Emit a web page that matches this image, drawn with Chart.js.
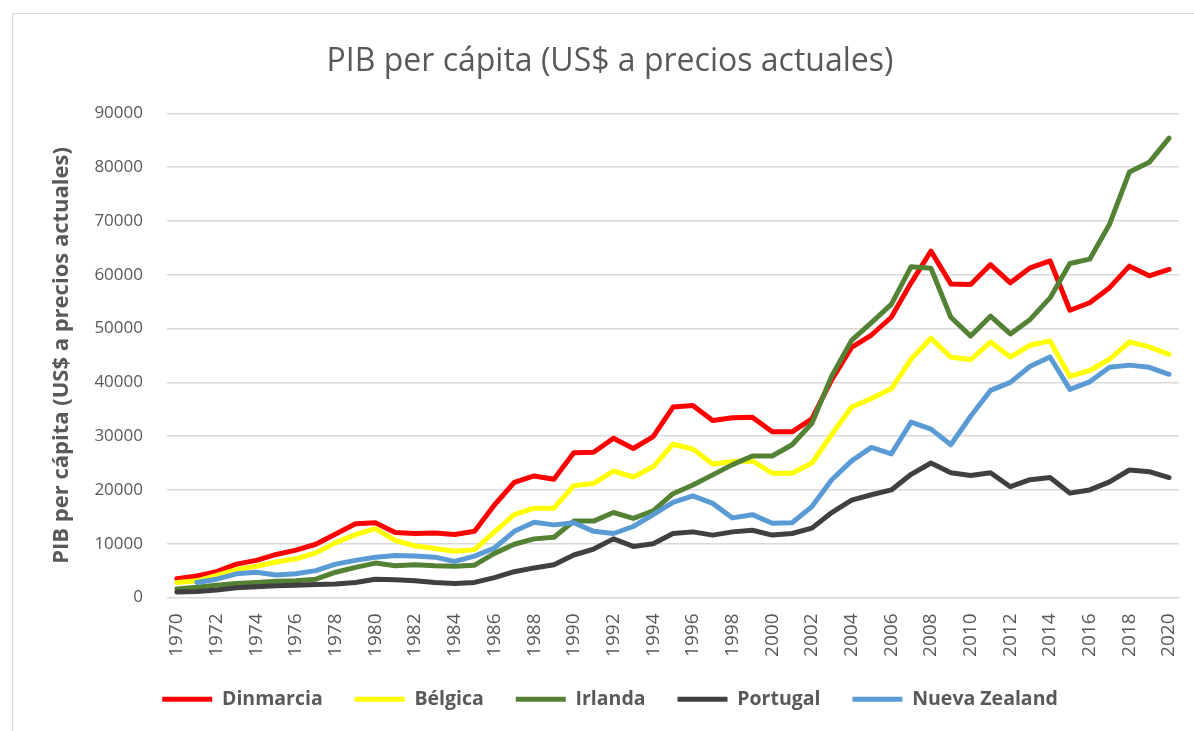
<!DOCTYPE html>
<html>
<head>
<meta charset="utf-8">
<script src="https://cdn.jsdelivr.net/npm/chart.js@4"></script>
<style>
  html, body { margin: 0; padding: 0; background: #fff; overflow: hidden; }
  #frame { position: absolute; left: 12px; top: 13px; width: 1194px; height: 740px; border-left: 1px solid #d9d9d9; border-top: 1px solid #d9d9d9; }
  #wrap { position: absolute; left: 0; top: 0; width: 1194px; height: 718px; }
</style>
</head>
<body>
<div id="frame"><div id="wrap"><canvas id="chart"></canvas></div></div>
<script>
const years = [];
for (let y = 1970; y <= 2020; y++) years.push(String(y));

const dinmarcia = [3500, 4000, 4800, 6200, 6900, 8000, 8800, 9900, 11800, 13700, 13900, 12100, 11900, 12000, 11700, 12300,
  17200, 21400, 22600, 22000, 26900, 27000, 29600, 27700, 29900, 35400, 35700, 32900, 33400, 33500, 30800, 30800, 33200,
  40500, 46500, 48800, 52100, 58500, 64400, 58300, 58200, 61900, 58500, 61300, 62600, 53400, 54800, 57600, 61600, 59800, 61000];
const belgica = [2800, 3100, 4100, 5200, 5800, 6600, 7200, 8300, 10200, 11700, 12800, 10600, 9600, 9100, 8600, 8900,
  12200, 15400, 16600, 16600, 20800, 21200, 23500, 22400, 24300, 28500, 27600, 24800, 25300, 25400, 23100, 23100, 25000,
  30300, 35400, 37000, 38800, 44300, 48200, 44700, 44200, 47500, 44700, 46900, 47700, 41100, 42200, 44300, 47500, 46600, 45200];
const irlanda = [1600, 1900, 2300, 2600, 2800, 3000, 3100, 3400, 4700, 5600, 6400, 5900, 6100, 5900, 5800, 6000,
  8200, 9900, 10900, 11200, 14200, 14200, 15800, 14700, 16100, 19300, 20900, 22800, 24700, 26300, 26300, 28400, 32400,
  41200, 47800, 51100, 54500, 61500, 61200, 52100, 48600, 52300, 49000, 51700, 55700, 62100, 62900, 69400, 79100, 80900, 85400];
const portugal = [1000, 1100, 1400, 1800, 2000, 2200, 2300, 2400, 2500, 2800, 3400, 3300, 3100, 2800, 2600, 2800,
  3700, 4800, 5500, 6100, 7900, 9000, 10900, 9500, 10000, 11900, 12200, 11600, 12200, 12500, 11600, 11900, 12900,
  15800, 18100, 19100, 20000, 22900, 25000, 23200, 22700, 23200, 20600, 21900, 22300, 19400, 20000, 21500, 23700, 23400, 22300];
const nuevaZealand = [null, 2800, 3400, 4400, 4700, 4200, 4400, 5000, 6200, 6900, 7500, 7800, 7700, 7500, 6700, 7700,
  9200, 12300, 14000, 13500, 13900, 12300, 11900, 13200, 15400, 17700, 18900, 17500, 14800, 15400, 13800, 13900, 16900,
  21900, 25400, 27900, 26700, 32600, 31300, 28400, 33700, 38500, 40000, 43000, 44700, 38700, 40100, 42800, 43200, 42800, 41500];

const seriesNames = ["Dinmarcia", "Bélgica", "Irlanda", "Portugal", "Nueva Zealand"];
const seriesColors = ["#ff0000", "#ffff00", "#548235", "#404040", "#5b9bd5"];
const seriesValues = [dinmarcia, belgica, irlanda, portugal, nuevaZealand];

const FONT = "'Open Sans', 'DejaVu Sans', sans-serif";
const GREY = "#595959";

const datasets = seriesNames.map((name, i) => ({
  label: name,
  data: seriesValues[i],
  borderColor: seriesColors[i],
  backgroundColor: seriesColors[i],
  borderWidth: 5,
  pointRadius: 0,
  tension: 0,
  borderJoinStyle: "round",
  borderCapStyle: "round",
  order: seriesNames.length - i
}));

new Chart(document.getElementById("chart"), {
  type: "line",
  data: { labels: years, datasets: datasets },
  options: {
    responsive: true,
    maintainAspectRatio: false,
    animation: false,
    events: [],
    layout: { padding: { left: 0, right: 0, top: 0, bottom: 13 } },
    plugins: {
      title: {
        display: true,
        text: "PIB per cápita (US$ a precios actuales)",
        color: GREY,
        font: { family: FONT, size: 32, weight: "normal" },
        padding: { top: 29, bottom: 32 }
      },
      legend: {
        position: "bottom",
        labels: {
          color: GREY,
          font: { family: FONT, size: 19.5, weight: "bold" },
          boxWidth: 50,
          boxHeight: 5,
          padding: 32,
          sort: (a, b) => a.datasetIndex - b.datasetIndex,
          generateLabels: (chart) => {
            const items = Chart.defaults.plugins.legend.labels.generateLabels(chart);
            items.forEach(it => { it.lineWidth = 0; });
            return items;
          }
        }
      },
      tooltip: { enabled: false }
    },
    scales: {
      x: {
        offset: true,
        grid: { display: false },
        border: { display: true, color: "#d9d9d9" },
        ticks: {
          autoSkip: false,
          minRotation: 90,
          maxRotation: 90,
          padding: 8,
          color: GREY,
          font: { family: FONT, size: 19 },
          callback: (v, i) => (i % 2 === 0 ? years[i] : "")
        },
        afterFit: (scale) => { scale.height = 60; }
      },
      y: {
        min: 0,
        max: 90000,
        grid: { color: "#d9d9d9", lineWidth: 1.5, drawTicks: false },
        border: { display: false },
        ticks: {
          stepSize: 10000,
          padding: 24,
          color: GREY,
          font: { family: FONT, size: 17 },
          callback: (v) => String(v)
        },
        title: {
          display: true,
          text: "PIB per cápita (US$ a precios actuales)",
          color: GREY,
          font: { family: FONT, size: 22, weight: "bold" },
          padding: { top: 36, bottom: 0 }
        },
        afterFit: (scale) => { scale.width = 154; }
      },
      yRight: {
        position: "right",
        min: 0,
        max: 90000,
        grid: { display: false },
        border: { display: false },
        ticks: { display: false },
        afterFit: (scale) => { scale.width = 28; }
      }
    }
  }
});
</script>
</body>
</html>
